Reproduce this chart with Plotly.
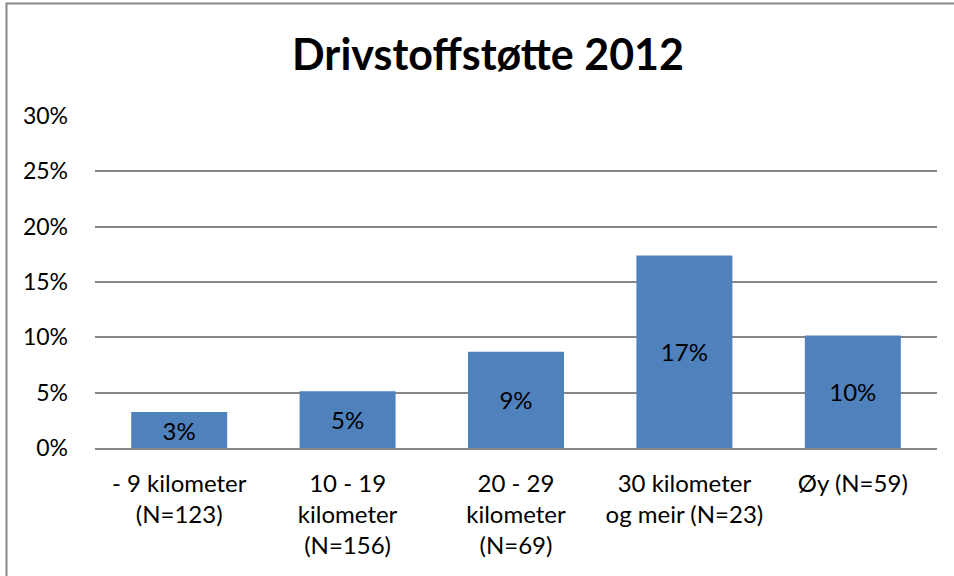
import plotly.graph_objects as go

# Share receiving fuel support, by travel distance
categories = [
    "- 9 kilometer<br>(N=123)",
    "10 - 19<br>kilometer<br>(N=156)",
    "20 - 29<br>kilometer<br>(N=69)",
    "30 kilometer<br>og meir (N=23)",
    "Øy (N=59)",
]
shares = [0.0325, 0.0513, 0.087, 0.174, 0.1017]
y_ticks = [0, 0.05, 0.10, 0.15, 0.20, 0.25, 0.30]

FONT = "Lato, Carlito, Calibri, sans-serif"
GRID = "#868686"

fig = go.Figure(
    go.Bar(
        x=categories,
        y=shares,
        marker=dict(color="#4f81bd", line=dict(width=0)),
        texttemplate="%{y:.0%}",
        textposition="inside",
        insidetextanchor="middle",
        textangle=0,
        textfont=dict(family=FONT, size=24, color="#000000"),
        hoverinfo="skip",
    )
)

fig.update_layout(
    width=954,
    height=576,
    margin=dict(l=95, r=17, t=116, b=128),
    paper_bgcolor="white",
    plot_bgcolor="white",
    bargap=0.43,
    showlegend=False,
    title=dict(
        text="<b>Drivstoffstøtte 2012</b>",
        x=488 / 954,
        xanchor="center",
        y=1 - 55 / 576,
        yanchor="middle",
        font=dict(family=FONT, size=43, color="#000000"),
    ),
    font=dict(family=FONT, color="#000000"),
    shapes=[
        dict(
            type="rect",
            xref="paper",
            yref="paper",
            x0=(6.5 - 95) / 842,
            x1=1.2,
            y0=-0.6,
            y1=(448 - 3.5) / 332,
            line=dict(color="#878787", width=2),
            fillcolor="rgba(0,0,0,0)",
            layer="below",
        )
    ],
)

fig.update_yaxes(
    range=[0, 0.30],
    tickvals=y_ticks,
    tickformat=".0%",
    showgrid=True,
    gridcolor=GRID,
    gridwidth=1.5,
    zeroline=False,
    showline=False,
    ticks="",
    ticklabelstandoff=26,
    tickfont=dict(family=FONT, size=23, color="#000000"),
    fixedrange=True,
)

fig.update_xaxes(
    showgrid=False,
    showline=True,
    linecolor=GRID,
    linewidth=1.5,
    ticks="",
    ticklabelstandoff=13,
    tickangle=0,
    tickfont=dict(family=FONT, size=24, color="#000000"),
    fixedrange=True,
)

fig.write_html("out.html")
